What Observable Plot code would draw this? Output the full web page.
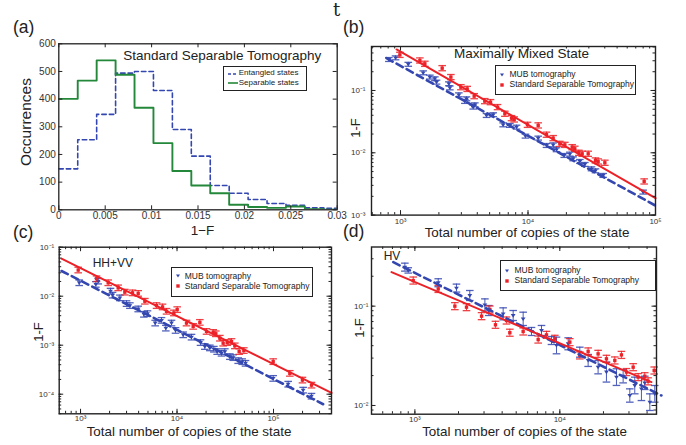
<!DOCTYPE html>
<html><head><meta charset="utf-8">
<script src="https://cdn.jsdelivr.net/npm/d3@7"></script>
<script src="https://cdn.jsdelivr.net/npm/@observablehq/plot@0.6"></script>
<style>
body{margin:0;background:#fff;}
#wrap{position:relative;width:686px;height:445px;overflow:hidden;font-family:"Liberation Sans",Arial,sans-serif;color:#222;}
#wrap > svg{position:absolute;left:0;top:0;overflow:visible;}
.t{position:absolute;white-space:nowrap;line-height:1;}
.lg{position:absolute;border:1.2px solid #222;background:#fff;box-sizing:border-box;}
</style></head><body><div id="wrap"></div>
<script>
// ---------- DATA ----------
// (a) histogram of 1-F
const histEdges = [0, 0.00204, 0.00408, 0.00612, 0.00816, 0.0102, 0.01224, 0.01428, 0.01632, 0.01836, 0.0204, 0.02244, 0.02448, 0.02652, 0.02856, 0.0306];
const entangledCounts = [148, 253, 345, 494, 500, 431, 290, 194, 88, 60, 37, 23, 16, 7, 5];
const separableCounts = [401, 467, 540, 488, 369, 241, 140, 88, 60, 18, 10, 7, 12, 2, 0];
const aXTicks = [0, 0.005, 0.01, 0.015, 0.02, 0.025, 0.03];
const aYTicks = [0, 100, 200, 300, 400, 500, 600];

// (b) Maximally mixed state
const mmMubN = [810, 914, 1150, 1506, 1698, 1858, 1916, 2393, 2438, 2868, 3196, 3294, 3715, 3828, 4727, 5333, 6383, 7203, 8128, 9550, 12020, 13960, 15750, 16730, 19230, 21280, 22590, 25500, 27900, 31480, 33810, 38860, 80000];
const mmMubF = [0.314, 0.334, 0.263, 0.192, 0.164, 0.154, 0.136, 0.128, 0.110, 0.0852, 0.0667, 0.0735, 0.0541, 0.0589, 0.0397, 0.0408, 0.0281, 0.0275, 0.0258, 0.0185, 0.0172, 0.0131, 0.0134, 0.0112, 0.00906, 0.00952, 0.00801, 0.00726, 0.00650, 0.00553, 0.00514, 0.00433, 0.00234];
const mmSstN = [988, 1418, 1552, 2122, 2483, 2974, 3334, 3782, 4581, 5081, 5768, 6583, 7423, 7792, 9910, 12020, 13960, 15750, 17770, 19450, 22200, 23280, 25050, 26600, 29650, 33810, 35480, 40060, 81470];
const mmSstF = [0.373, 0.303, 0.268, 0.228, 0.164, 0.113, 0.106, 0.0811, 0.0675, 0.0650, 0.0541, 0.0423, 0.0360, 0.0343, 0.0281, 0.0275, 0.0195, 0.0172, 0.0139, 0.0134, 0.0123, 0.0116, 0.0100, 0.00964, 0.00964, 0.00753, 0.00726, 0.00692, 0.00347];
const mmMubErr = 0.075, mmSstErr = 0.10;
const mmFitMubN = [776, 100000], mmFitMubF = [0.330, 0.00142];
const mmFitSstN = [931, 100000], mmFitSstF = [0.455, 0.00187];

// (c) HH+VV
const hhMubN = [969, 1442, 1524, 2046, 2147, 2557, 2997, 3245, 3959, 4530, 4944, 5937, 6906, 7656, 8770, 9650, 11580, 14130, 17520, 19420, 21880, 24080, 26060, 28910, 31300, 35280, 38200, 43040, 47340, 51260, 99200, 141900, 202800, 247500];
const hhMubF = [0.0188, 0.0174, 0.0203, 0.0127, 0.0105, 0.00924, 0.00707, 0.00643, 0.00549, 0.00427, 0.00441, 0.00283, 0.00321, 0.00223, 0.00283, 0.00200, 0.00163, 0.00146, 0.00113, 0.000939, 0.000881, 0.000828, 0.000741, 0.000685, 0.000741, 0.000585, 0.000558, 0.000484, 0.000462, 0.000427, 0.000210, 0.000160, 0.000121, 0.0000910];
const hhSstN = [946, 1465, 1935, 2455, 2877, 3456, 3959, 4642, 6133, 7079, 7787, 9270, 10040, 12540, 14700, 17240, 20220, 23710, 25240, 27790, 30070, 33110, 36700, 39720, 44060, 49270, 99200, 147600, 199500, 247500];
const hhSstF = [0.0342, 0.0227, 0.0188, 0.0148, 0.0121, 0.0117, 0.0114, 0.00789, 0.00643, 0.00604, 0.00492, 0.00455, 0.00532, 0.00283, 0.00242, 0.00292, 0.00191, 0.00182, 0.00171, 0.00139, 0.00110, 0.00113, 0.00119, 0.000968, 0.000741, 0.000777, 0.000462, 0.000266, 0.000194, 0.000153];
const hhMubErr = 0.14, hhSstErr = 0.14;
const hhFitMubN = [635, 327000], hhFitMubF = [0.0327, 0.0000624];
const hhFitSstN = [635, 399000], hhFitSstF = [0.0585, 0.000106];

// (d) HV
const hvMubN = [853, 900, 1449, 1936, 2393, 3041, 3236, 4064, 4765, 5585, 6375, 7474, 8758, 9484, 11420, 13740, 15680, 18370, 20970, 24590, 27340, 30400, 32890, 36560, 38550, 41780, 45180];
const hvMubF = [0.247, 0.229, 0.172, 0.152, 0.128, 0.103, 0.0904, 0.0837, 0.0805, 0.0745, 0.0556, 0.0569, 0.0451, 0.0402, 0.0418, 0.0344, 0.0284, 0.0243, 0.0217, 0.0193, 0.0197, 0.0126, 0.0159, 0.0147, 0.0169, 0.0108, 0.0131];
const hvMubErr = [0.097, 0.064, 0.097, 0.097, 0.123, 0.149, 0.123, 0.149, 0.123, 0.167, 0.097, 0.123, 0.097, 0.213, 0.149, 0.123, 0.149, 0.167, 0.261, 0.213, 0.167, 0.167, 0.213, 0.311, 0.167, 0.213, 0.213];
const hvSstN = [974, 1449, 1887, 2270, 2884, 3290, 3597, 4285, 4520, 5585, 7090, 8091, 9237, 11720, 13740, 15680, 18370, 20970, 23950, 26610, 28830, 32060, 34690, 38550, 40640, 44770];
const hvSstF = [0.181, 0.149, 0.100, 0.0977, 0.0793, 0.0925, 0.0649, 0.0717, 0.0540, 0.0556, 0.0461, 0.0514, 0.0469, 0.0434, 0.0319, 0.0350, 0.0331, 0.0295, 0.0284, 0.0323, 0.0217, 0.0243, 0.0193, 0.0197, 0.0175, 0.0225];
const hvSstErr = 0.085;
const hvFitMubN = [710, 50230], hvFitMubF = [0.277, 0.0126];
const hvFitSstN = [690, 42850], hvFitSstF = [0.220, 0.0172];

// ---------- STYLE ----------
const BLUE = "#3447b0", RED = "#ec2127", GREEN = "#23883a", INK = "#222";
const FONT = '"Liberation Sans", Arial, sans-serif';
const W = 686, H = 445;
const wrap = document.getElementById("wrap");

const triDown = {draw(ctx, size) { const r = Math.sqrt(size / Math.PI); ctx.moveTo(-r, -r * 0.6); ctx.lineTo(r, -r * 0.6); ctx.lineTo(0, r * 0.9); ctx.closePath(); }};
const capSym = {draw(ctx, size) { const r = Math.sqrt(size / Math.PI); ctx.moveTo(-r, 0); ctx.lineTo(r, 0); }};

const supMap = {"-": "\u207B", "0": "\u2070", "1": "\u00B9", "2": "\u00B2", "3": "\u00B3", "4": "\u2074", "5": "\u2075"};
const pow10 = d => "10" + String(Math.round(Math.log10(d))).split("").map(c => supMap[c]).join("");

function logTicks([lo, hi], majorOnly) {
  const out = [];
  for (let e = Math.floor(Math.log10(lo)); e <= Math.ceil(Math.log10(hi)); e++)
    for (let k = 1; k <= (majorOnly ? 1 : 9); k++) {
      const v = +(k * Math.pow(10, e)).toPrecision(6);
      if (v >= lo * 0.999 && v <= hi * 1.001) out.push(v);
    }
  return out;
}

function frameTicks(xs, ys, fw, fh, len) {
  return [
    Plot.tickX(xs, {x: d => d, insetTop: fh - len, stroke: INK, strokeWidth: 1}),
    Plot.tickX(xs, {x: d => d, insetBottom: fh - len, stroke: INK, strokeWidth: 1}),
    Plot.tickY(ys, {y: d => d, insetRight: fw - len, stroke: INK, strokeWidth: 1}),
    Plot.tickY(ys, {y: d => d, insetLeft: fw - len, stroke: INK, strokeWidth: 1})
  ];
}

function place(svg) { wrap.appendChild(svg); }

// ---------- PANEL (a) ----------
(function () {
  const L = 58.3, R = 336.7, T = 43.3, B = 209.3;
  const pts = counts => histEdges.map((e, i) => ({x: e, y: counts[Math.min(i, counts.length - 1)]}));
  place(Plot.plot({
    width: W, height: H, marginLeft: L, marginRight: W - R, marginTop: T, marginBottom: H - B,
    style: {background: "none", fontFamily: FONT, fontSize: "10px", color: "#333", overflow: "visible"},
    x: {domain: [0, 0.03]}, y: {domain: [0, 600]},
    marks: [
      Plot.line(pts(entangledCounts), {x: "x", y: "y", curve: "step-after", stroke: BLUE, strokeWidth: 1.6, strokeDasharray: "4.5,3", clip: true}),
      Plot.line(pts(separableCounts), {x: "x", y: "y", curve: "step-after", stroke: GREEN, strokeWidth: 1.9, clip: true}),
      ...frameTicks(aXTicks, aYTicks, R - L, B - T, 4),
      Plot.frame({stroke: INK, strokeWidth: 1.3}),
      Plot.axisX({ticks: aXTicks, tickFormat: d => String(d), tickSize: 0, tickPadding: 2, label: null, fontSize: 10}),
      Plot.axisY({ticks: aYTicks, tickFormat: d => String(d), tickSize: 0, tickPadding: 3, label: null, fontSize: 10})
    ]
  }));
})();

// ---------- LOG PANELS ----------
function logPanel(p) {
  const fw = p.R - p.L, fh = p.B - p.T;
  const rows = (N, F, E) => N.map((n, i) => {
    const e = Array.isArray(E) ? E[i] : E;
    return {n, f: F[i], lo: F[i] / (1 + e), hi: F[i] * (1 + e)};
  });
  const mub = rows(p.mubN, p.mubF, p.mubE);
  const sst = rows(p.sstN, p.sstF, p.sstE);
  const fitM = p.fitMubN.map((n, i) => ({n, f: p.fitMubF[i]}));
  const fitS = p.fitSstN.map((n, i) => ({n, f: p.fitSstF[i]}));
  const xMin = logTicks(p.xDomain, false), yMin = logTicks(p.yDomain, false);
  const xMaj = logTicks(p.xDomain, true), yMaj = logTicks(p.yDomain, true);
  const bars = (data, color) => [
    Plot.ruleX(data, {x: "n", y1: "lo", y2: "hi", stroke: color, strokeWidth: 1, strokeOpacity: 0.9}),
    Plot.dot(data, {x: "n", y: "hi", symbol: capSym, r: 3.8, stroke: color, fill: "none", strokeWidth: 1.3, strokeOpacity: 0.85}),
    Plot.dot(data, {x: "n", y: "lo", symbol: capSym, r: 3.8, stroke: color, fill: "none", strokeWidth: 1.3, strokeOpacity: 0.85})
  ];
  place(Plot.plot({
    width: W, height: H, marginLeft: p.L, marginRight: W - p.R, marginTop: p.T, marginBottom: H - p.B,
    style: {background: "none", fontFamily: FONT, fontSize: "8px", color: "#333", overflow: "visible"},
    x: {type: "log", domain: p.xDomain}, y: {type: "log", domain: p.yDomain},
    marks: [
      ...bars(mub, BLUE),
      ...bars(sst, RED),
      Plot.dot(mub, {x: "n", y: "f", symbol: triDown, r: 2.4, fill: BLUE, stroke: "none"}),
      Plot.dot(sst, {x: "n", y: "f", symbol: "square", r: 1.9, fill: RED, stroke: "none"}),
      Plot.line(fitM, {x: "n", y: "f", stroke: BLUE, strokeWidth: 2.6, strokeDasharray: "7,4.5"}),
      Plot.line(fitS, {x: "n", y: "f", stroke: RED, strokeWidth: 2}),
      ...frameTicks(xMin, yMin, fw, fh, 2.5),
      ...frameTicks(xMaj, yMaj, fw, fh, 4.5),
      Plot.frame({stroke: INK, strokeWidth: 1.4}),
      Plot.axisX({ticks: xMaj, tickFormat: pow10, tickSize: 0, tickPadding: p.xPad, label: null, fontSize: 8}),
      Plot.axisY({ticks: yMaj, tickFormat: pow10, tickSize: 0, tickPadding: p.yPad, label: null, fontSize: 8})
    ]
  }));
}

logPanel({L: 371, R: 655, T: 46, B: 214.6, xDomain: [592, 100000], yDomain: [0.001, 0.508],
  mubN: mmMubN, mubF: mmMubF, mubE: mmMubErr, sstN: mmSstN, sstF: mmSstF, sstE: mmSstErr,
  fitMubN: mmFitMubN, fitMubF: mmFitMubF, fitSstN: mmFitSstN, fitSstF: mmFitSstF, xPad: 3, yPad: 6});
logPanel({L: 58.7, R: 331, T: 246.7, B: 413.3, xDomain: [601, 399000], yDomain: [0.0000398, 0.1],
  mubN: hhMubN, mubF: hhMubF, mubE: hhMubErr, sstN: hhSstN, sstF: hhSstF, sstE: hhSstErr,
  fitMubN: hhFitMubN, fitMubF: hhFitMubF, fitSstN: hhFitSstN, fitSstF: hhFitSstF, xPad: 2, yPad: 5});
logPanel({L: 371, R: 656, T: 246.5, B: 413.7, xDomain: [502, 46450], yDomain: [0.00817, 0.394],
  mubN: hvMubN, mubF: hvMubF, mubE: hvMubErr, sstN: hvSstN, sstF: hvSstF, sstE: hvSstErr,
  fitMubN: hvFitMubN, fitMubF: hvFitMubF, fitSstN: hvFitSstN, fitSstF: hvFitSstF, xPad: 2, yPad: 3});

// ---------- TEXT ----------
function txt(s, x, base, fs, opt = {}) {
  const d = document.createElement("div");
  d.className = "t"; d.textContent = s;
  d.style.fontSize = fs + "px";
  if (opt.family) d.style.fontFamily = opt.family;
  if (opt.rot) {
    d.style.left = x + "px"; d.style.top = base + "px";
    d.style.transform = "translate(-50%,-50%) rotate(-90deg)";
  } else {
    d.style.left = x + "px"; d.style.top = (base - 0.9 * fs) + "px";
    if (opt.mid) d.style.transform = "translateX(-50%)";
  }
  wrap.appendChild(d);
}
txt("t", 333, 17, 18, {family: '"DejaVu Serif", serif'});
txt("(a)", 13, 35, 17.5);
txt("(b)", 343, 35, 17.5);
txt("(c)", 13, 239.5, 17.5);
txt("(d)", 343, 239, 17.5);
txt("Standard Separable Tomography", 123.3, 61.4, 13.5);
txt("Maximally Mixed State", 454, 59.5, 13.5);
txt("HH+VV", 92.7, 267.7, 12);
txt("HV", 383.7, 260.3, 12);
txt("Occurrences", 26, 122, 15.5, {rot: true});
txt("1-F", 355, 128, 13, {rot: true});
txt("1-F", 38, 332, 13, {rot: true});
txt("1-F", 359, 328, 13, {rot: true});
txt("1\u2212F", 202.5, 236, 13.5, {mid: true});
txt("Total number of copies of the state", 527, 237.8, 13.4, {mid: true});
txt("Total number of copies of the state", 189, 437.2, 13.4, {mid: true});
txt("Total number of copies of the state", 524.5, 437.2, 13.4, {mid: true});

// ---------- LEGENDS ----------
function legend(x, y, w, h, rows) {
  const box = document.createElement("div");
  box.className = "lg";
  Object.assign(box.style, {left: x + "px", top: y + "px", width: w + "px", height: h + "px"});
  wrap.appendChild(box);
  rows.forEach(r => {
    const s = document.createElementNS("http://www.w3.org/2000/svg", "svg");
    s.setAttribute("width", 14); s.setAttribute("height", 8);
    s.style.position = "absolute"; s.style.left = (r.sx - x - 7) + "px"; s.style.top = (r.cy - y - 4 - 1.2) + "px";
    s.innerHTML = r.sample;
    box.appendChild(s);
    const t = document.createElement("div");
    t.className = "t"; t.textContent = r.label;
    Object.assign(t.style, {fontSize: r.fs + "px", left: (r.tx - x - 1.2) + "px", top: (r.cy - y - 0.55 * r.fs - 1.2) + "px"});
    box.appendChild(t);
  });
}
const dashSample = `<line x1="2" y1="4" x2="12" y2="4" stroke="${BLUE}" stroke-width="1.5" stroke-dasharray="3,2"/>`;
const solidSample = `<line x1="2" y1="4" x2="12" y2="4" stroke="${GREEN}" stroke-width="1.6"/>`;
const triSample = `<path d="M5,2.6L9,2.6L7,5.6Z" fill="${BLUE}"/>`;
const sqSample = `<rect x="5.3" y="2.3" width="3.4" height="3.4" fill="${RED}"/>`;
legend(222.7, 66, 84.6, 24.7, [
  {sample: dashSample, sx: 232, cy: 73.8, tx: 239, label: "Entangled states", fs: 8},
  {sample: solidSample, sx: 232, cy: 83.3, tx: 239, label: "Separable states", fs: 8}
]);
legend(494.7, 65, 141.6, 30, [
  {sample: triSample, sx: 501, cy: 75, tx: 509.7, label: "MUB tomography", fs: 8.5},
  {sample: sqSample, sx: 501, cy: 85, tx: 509.7, label: "Standard Separable Tomography", fs: 8.5}
]);
legend(170.7, 267, 142.6, 30, [
  {sample: triSample, sx: 176.7, cy: 276.5, tx: 185, label: "MUB tomography", fs: 8.5},
  {sample: sqSample, sx: 176.7, cy: 286.5, tx: 185, label: "Standard Separable Tomography", fs: 8.5}
]);
legend(499.7, 260.3, 156.6, 30.7, [
  {sample: triSample, sx: 506.3, cy: 271, tx: 514.7, label: "MUB tomography", fs: 8.5},
  {sample: sqSample, sx: 506.3, cy: 280.8, tx: 514.7, label: "Standard Separable Tomography", fs: 8.5}
]);
</script></body></html>
